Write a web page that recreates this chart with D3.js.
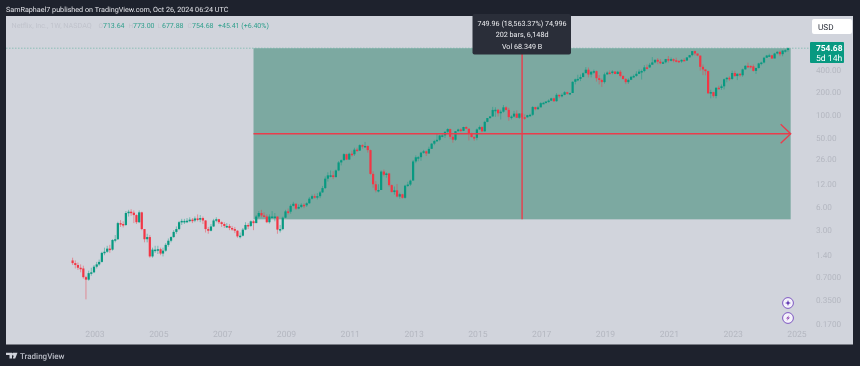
<!DOCTYPE html>
<html>
<head>
<meta charset="utf-8">
<script src="https://cdn.jsdelivr.net/npm/d3@7"></script>
<style>
  html, body { margin: 0; padding: 0; background: #1e222d; }
  svg { display: block; font-family: Roboto, "Noto Sans", sans-serif; filter: blur(0.3px); text-rendering: geometricPrecision; }
</style>
</head>
<body>
<svg id="chart" width="860" height="366"></svg>
<script>
// data ------------------------------------------------------------------------
const firstMonth = new Date(Date.UTC(2002, 4, 1));

const opens = [
  1.15,1.06,1.00,0.92,0.90,0.69,0.64,0.78,
  0.80,0.95,1.02,1.10,1.45,1.50,1.65,1.60,2.15,2.20,3.60,3.50,
  3.40,4.90,5.10,4.95,4.60,3.70,5.00,3.00,2.20,2.35,1.30,1.60,
  1.60,1.62,1.42,1.55,1.85,2.10,2.35,2.75,3.00,3.70,3.85,3.85,
  3.87,4.00,3.90,4.15,4.00,4.20,3.90,3.00,2.85,3.25,3.90,4.05,
  3.70,3.50,3.30,3.30,3.10,3.00,2.85,2.40,2.45,2.95,3.40,3.30,
  3.80,3.60,4.40,4.90,4.55,4.40,3.70,4.40,4.40,4.40,2.95,3.00,
  4.25,5.15,5.10,6.10,6.50,5.60,5.90,6.30,6.20,6.60,7.60,8.20,
  7.90,8.20,9.20,10.5,14.0,15.5,15.5,14.7,18.0,23.0,24.6,29.6,
  25.1,30.0,29.5,34.0,33.0,39.0,37.5,38.0,33.5,16.2,11.8,9.8,
  9.9,17.4,15.8,16.4,11.5,9.3,9.8,8.1,8.7,7.8,11.3,11.7,
  13.2,23.7,26.9,27.0,31.0,32.3,30.2,34.8,40.8,44.2,45.9,52.4,
  52.6,58.7,63.7,50.3,46.0,59.7,62.9,60.4,67.9,64.5,56.2,49.9,
  48.8,63.1,67.8,59.5,79.4,89.2,93.8,114.3,115,103.3,108.4,123.8,
  114.4,91.8,93.4,102.2,90,102.6,91.5,91.3,97.5,98.6,124.9,117,
  123.8,140.7,142.1,147.8,152.2,163,149.4,181.7,174.7,181.4,196.4,187.6,
  192,270.3,291.4,295.4,312.5,351.6,391.4,337.5,367.7,374.1,301.8,286.1,
  267.7,339.5,358.1,356.6,370.5,343.3,367.3,323,293.8,267.6,287.4,314.7,
  323.6,345.1,369,375.5,419.9,419.7,455,488.9,529.6,500,475.7,490.7,
  540.7,532.4,538.9,521.7,513.5,502.8,528.2,517.6,569.2,610.3,690.3,641.9,
  602.4,427.1,394.5,374.6,190.4,197.4,174.9,224.9,223.6,235.4,291.9,305.5,
  294.9,353.9,322.1,345.5,329.9,395.2,440.5,439,433.7,377.6,411.7,474,
  486.9,564.1,602.9,607.3,550.6,641.6,674.9,628.4,701.4,713.64
];
const closes = [
  1.06,1.00,0.92,0.90,0.69,0.64,0.78,0.80,
  0.95,1.02,1.10,1.45,1.50,1.65,1.60,2.15,2.20,3.60,3.50,3.40,
  4.90,5.10,4.95,4.60,3.70,5.00,3.00,2.20,2.35,1.30,1.60,1.60,
  1.62,1.42,1.55,1.85,2.10,2.35,2.75,3.00,3.70,3.85,3.85,3.87,
  4.00,3.90,4.15,4.00,4.20,3.90,3.00,2.85,3.25,3.90,4.05,3.70,
  3.50,3.30,3.30,3.10,3.00,2.85,2.40,2.45,2.95,3.40,3.30,3.80,
  3.60,4.40,4.90,4.55,4.40,3.70,4.40,4.40,4.40,2.95,3.00,4.25,
  5.15,5.10,6.10,6.50,5.60,5.90,6.30,6.20,6.60,7.60,8.20,7.90,
  8.20,9.20,10.5,14.0,15.5,15.5,14.7,18.0,23.0,24.6,29.6,25.1,
  30.0,29.5,34.0,33.0,39.0,37.5,38.0,33.5,16.2,11.8,9.8,9.9,
  17.4,15.8,16.4,11.5,9.3,9.8,8.1,8.7,7.8,11.3,11.7,13.2,
  23.7,26.9,27.0,31.0,32.3,30.2,34.8,40.8,44.2,45.9,52.4,52.6,
  58.7,63.7,50.3,46.0,59.7,62.9,60.4,67.9,64.5,56.2,49.9,48.8,
  63.1,67.8,59.5,79.4,89.2,93.8,114.3,115,103.3,108.4,123.8,114.4,
  91.8,93.4,102.2,90,102.6,91.5,91.3,97.5,98.6,124.9,117,123.8,
  140.7,142.1,147.8,152.2,163,149.4,181.7,174.7,181.4,196.4,187.6,192,
  270.3,291.4,295.4,312.5,351.6,391.4,337.5,367.7,374.1,301.8,286.1,267.7,
  339.5,358.1,356.6,370.5,343.3,367.3,323,293.8,267.6,287.4,314.7,323.6,
  345.1,369,375.5,419.9,419.7,455,488.9,529.6,500,475.7,490.7,540.7,
  532.4,538.9,521.7,513.5,502.8,528.2,517.6,569.2,610.3,690.3,641.9,602.4,
  427.1,394.5,374.6,190.4,197.4,174.9,224.9,223.6,235.4,291.9,305.5,294.9,
  353.9,322.1,345.5,329.9,395.2,440.5,439,433.7,377.6,411.7,474,486.9,
  564.1,602.9,607.3,550.6,641.6,674.9,628.4,701.4,709.3,754.68
];
const highs = [
  1.25,1.15,1.08,1.02,0.98,0.72,0.84,0.92,
  1.00,1.10,1.18,1.50,1.70,1.80,1.85,2.20,2.50,3.75,3.95,3.80,
  5.20,5.40,5.50,5.30,4.70,5.30,5.10,3.00,2.60,2.50,1.70,1.80,
  1.80,1.70,1.70,1.95,2.25,2.40,2.90,3.25,3.85,4.10,4.10,4.20,
  4.30,4.20,4.40,4.70,4.60,4.40,3.95,3.20,3.50,4.10,4.30,4.10,
  3.80,3.70,3.60,3.50,3.30,3.20,2.90,2.70,3.10,3.70,3.60,3.90,
  3.95,4.60,5.20,5.40,5.00,4.70,4.70,5.20,4.90,4.40,3.40,4.40,
  5.40,5.60,6.40,6.90,6.60,6.40,6.60,6.60,6.80,8.00,8.60,8.80,
  9.0,9.6,11.2,15.0,17.0,18.0,17.6,18.5,24.0,25.2,30.5,30.0,
  31,33,36,36,40,40,43,38.5,34,17.5,13,11.8,
  18,18.5,16.9,16.7,11.7,11.0,11.9,9.1,8.8,11.6,12.7,13.6,
  24.8,28.5,28,31.8,33.7,33,37.2,41.5,45.8,55,53.5,55,
  59,65.5,64.5,53,60,64.5,65,68.5,69.5,64,57,51.5,
  65,71,69.5,82,89.5,95,125.7,124,118,115,133,128,
  122,97,111,113,103,104,100,98.5,102,129,126,130,
  145,146,149,158,166,166,191,181,190,203,199,194,
  274,298,335,338,362,423,419,372,392,381,332,298,
  358,371,381,385,369,378,386,330,303,300,324,338,
  373,394,392,449,459,481,575,532,557,541,508,545,
  594,566,552,564,514,537,557,572,615,691,700,636,
  602,459,393,381,212,199,230,240,249,298,312,320,
  380,379,349,350,405,448,485,446,459,418,483,500,
  580,615,637,615,655,688,698,708,729,773
];
const lows = [
  1.00,0.90,0.86,0.80,0.66,0.35,0.62,0.72,
  0.78,0.90,0.98,1.08,1.35,1.45,1.45,1.55,2.00,2.15,3.20,3.15,
  3.30,4.40,4.50,3.60,3.50,3.60,2.90,2.00,2.00,1.25,1.25,1.45,
  1.40,1.35,1.30,1.50,1.75,2.00,2.30,2.60,2.90,3.40,3.50,3.60,
  3.70,3.60,3.70,3.80,3.70,3.50,2.70,2.60,2.80,3.20,3.70,3.50,
  3.20,3.10,3.10,2.90,2.85,2.65,2.30,2.25,2.40,2.90,3.00,3.20,
  2.90,3.60,4.20,4.30,4.30,3.60,3.55,4.20,3.80,2.60,2.70,2.90,
  4.20,4.70,4.80,6.00,5.40,5.50,5.70,5.70,5.90,6.50,7.40,7.60,
  7.4,7.7,9.1,10.2,12.8,14.6,13.8,14.5,17.6,21.0,24.4,24.8,
  24.9,27.5,28,32,33,35,37,31,15.8,10.6,9.2,9.2,
  10.1,15.0,14.4,11,9.2,8.6,7.9,7.6,7.6,7.6,10.9,11.2,
  13.5,22.5,23.8,24.2,30,28,30,35,39,43,44,49.5,
  48.5,55.5,47,42,44.5,59,58,60,63.5,45,49.5,44.5,
  45.3,62.5,58,59,78.5,87.5,93,92.5,93.5,85.5,105,112,
  82,85.5,91,90,87,86,84.5,90.5,93.5,95,113,115,
  124,138,139,143,150,146,147,164,168,179,183,180,
  195,250,275,276,311,352,309,310,345,272,250,231,
  256,333,342,340,342,340,310,292,252,254,285,303,
  315,342,290,362,396,412,472,475,463,463,467,475,
  486,504,490,489,482,483,511,512,570,589,604,591,
  379,331,330,186,163,166,163,217,211,214,266,278,
  286,315,285,315,315,392,411,405,370,344,405,447,
  475,562,580,543,592,625,593,590,658,677.88
];

const priceTicks = [400, 200, 100, 50, 26, 12, 6, 3, 1.4, 0.7, 0.35, 0.17];
const priceLabels = ['400.00','200.00','100.00','50.00','26.00','12.00','6.00','3.00','1.40','0.7000','0.3500','0.1700'];
const yearTicks = [2003, 2005, 2007, 2009, 2011, 2013, 2015, 2017, 2019, 2021, 2023, 2025];

// the measure tool box
const zoneStart = new Date(Date.UTC(2008, 0, 1));
const zoneEnd = new Date(Date.UTC(2024, 10, 1));
const zoneLow = 4.04;
const zoneHigh = 754;
const lastPrice = 754.68;
const toolLines = ['749.96 (18,563.37%) 74,996', '202 bars, 6,148d', 'Vol 68.349 B'];
const legendValues = ['713.64', '773.00', '677.88', '754.68', '+45.41 (+6.40%)'];
const legendLetters = ['O', 'H', 'L', 'C'];

// colours
const green = '#089981';
const red = '#f23645';

// scales ----------------------------------------------------------------------
const svg = d3.select('#chart');

const x = d3.scaleUtc()
  .domain([new Date(Date.UTC(2003, 0, 1)), new Date(Date.UTC(2025, 0, 1))])
  .range([94, 796]);

const y = d3.scaleLog()
  .domain([754.68, 0.17])
  .range([48.2, 323]);

const months = closes.map((c, i) => d3.utcMonth.offset(firstMonth, i));

// frame -----------------------------------------------------------------------
svg.append('rect').attr('width', 860).attr('height', 366).attr('fill', '#1e222d');
svg.append('rect').attr('x', 6).attr('y', 16).attr('width', 847).attr('height', 328.5).attr('fill', '#d1d4dc');

// measure zone (under the candles)
const zoneX0 = x(zoneStart), zoneX1 = x(zoneEnd);
const zoneY0 = y(zoneHigh), zoneY1 = y(zoneLow);
const zoneMidX = (zoneX0 + zoneX1) / 2;
const zoneMidY = (zoneY0 + zoneY1) / 2;

svg.append('rect')
  .attr('x', zoneX0).attr('y', zoneY0)
  .attr('width', zoneX1 - zoneX0).attr('height', zoneY1 - zoneY0)
  .attr('fill', '#7ca9a1');

// last price line
svg.append('line')
  .attr('x1', 6).attr('x2', 811)
  .attr('y1', y(lastPrice)).attr('y2', y(lastPrice))
  .attr('stroke', '#6fb5a8').attr('stroke-width', 0.7)
  .attr('stroke-dasharray', '1.5 1.5');

// candles ---------------------------------------------------------------------
const candleIdx = d3.range(closes.length);
const isUp = i => closes[i] >= opens[i];

svg.append('g').selectAll('line')
  .data(candleIdx)
  .enter()
  .append('line')
  .attr('x1', i => x(months[i])).attr('x2', i => x(months[i]))
  .attr('y1', i => y(highs[i])).attr('y2', i => y(lows[i]))
  .attr('stroke', i => isUp(i) ? green : red)
  .attr('stroke-opacity', 0.65)
  .attr('stroke-width', 0.7);

svg.append('g').selectAll('rect')
  .data(candleIdx)
  .enter()
  .append('rect')
  .attr('x', i => x(months[i]) - 1.1)
  .attr('width', 2.2)
  .attr('y', i => y(Math.max(opens[i], closes[i])))
  .attr('height', i => Math.max(1.5, Math.abs(y(opens[i]) - y(closes[i]))))
  .attr('fill', i => isUp(i) ? green : red);

// measure arrows
const crossColor = '#ea3d4c';
svg.append('line')
  .attr('x1', zoneX0).attr('x2', zoneX1)
  .attr('y1', zoneMidY).attr('y2', zoneMidY)
  .attr('stroke', crossColor).attr('stroke-width', 1.4);
svg.append('line')
  .attr('x1', zoneMidX).attr('x2', zoneMidX)
  .attr('y1', zoneY0).attr('y2', zoneY1)
  .attr('stroke', crossColor).attr('stroke-width', 1.4);
svg.append('path')
  .attr('d', d3.line()([[zoneX1 - 10, zoneMidY - 9.5], [zoneX1, zoneMidY], [zoneX1 - 10, zoneMidY + 9.5]]))
  .attr('fill', 'none').attr('stroke', crossColor).attr('stroke-width', 1.4);

// axes ------------------------------------------------------------------------
const yAxis = d3.axisRight(y)
  .tickValues(priceTicks)
  .tickFormat((d, i) => priceLabels[i])
  .tickSize(0).tickPadding(0);

const yAxisG = svg.append('g').attr('transform', 'translate(816,0.6)').call(yAxis);
yAxisG.select('.domain').remove();
yAxisG.selectAll('text').attr('fill', '#b4b7c0').attr('font-size', 8.2).attr('font-family', 'Roboto');

const xAxis = d3.axisBottom(x)
  .tickValues(yearTicks.map(d => new Date(Date.UTC(d, 0, 1))))
  .tickFormat(d3.utcFormat('%Y'))
  .tickSize(0).tickPadding(0);

const xAxisG = svg.append('g').attr('transform', 'translate(0.5,331)').call(xAxis);
xAxisG.select('.domain').remove();
xAxisG.selectAll('text').attr('fill', '#b4b7c0').attr('font-size', 8.6).attr('font-family', 'Roboto');

// header text -----------------------------------------------------------------
svg.append('text')
  .attr('x', 6).attr('y', 12)
  .attr('fill', '#e4e5ea').attr('font-size', 7.2)
  .text('SamRaphael7 published on TradingView.com, Oct 26, 2024 06:24 UTC');

svg.append('text')
  .attr('x', 11.5).attr('y', 28)
  .attr('fill', '#c0c3cc').attr('font-size', 7.2)
  .text('Netflix, Inc., 1W, NASDAQ');

const legendX = [103, 133, 162, 192, 218];
svg.append('g').selectAll('text')
  .data(legendValues)
  .enter()
  .append('text')
  .attr('x', (d, i) => legendX[i]).attr('y', 28)
  .attr('fill', '#2f9f8c').attr('font-size', 7)
  .text(d => d);
svg.append('g').selectAll('text')
  .data(legendLetters)
  .enter()
  .append('text')
  .attr('x', (d, i) => legendX[i] - 4.5).attr('y', 28)
  .attr('fill', '#c0c3cc').attr('font-size', 6.5)
  .text(d => d);

// measure tooltip -------------------------------------------------------------
svg.append('rect')
  .attr('x', 472.5).attr('y', 14).attr('width', 98.5).attr('height', 40.5)
  .attr('rx', 2).attr('fill', '#2a2e39');
svg.append('g').selectAll('text')
  .data(toolLines)
  .enter()
  .append('text')
  .attr('x', zoneMidX).attr('y', (d, i) => 25.5 + i * 11.8)
  .attr('text-anchor', 'middle')
  .attr('fill', '#eeeff2').attr('font-size', 7.2)
  .text(d => d);

// price scale widgets ---------------------------------------------------------
svg.append('rect')
  .attr('x', 812).attr('y', 19).attr('width', 40).attr('height', 15)
  .attr('rx', 2).attr('fill', '#ffffff');
svg.append('text')
  .attr('x', 818).attr('y', 29.5)
  .attr('fill', '#2a2e39').attr('font-size', 8.2)
  .text('USD');

svg.append('rect')
  .attr('x', 810).attr('y', 42).attr('width', 34).attr('height', 21)
  .attr('rx', 1).attr('fill', green);
svg.append('text')
  .attr('x', 816).attr('y', 51)
  .attr('fill', '#ffffff').attr('font-size', 8.4).attr('font-weight', 700)
  .text('754.68');
svg.append('text')
  .attr('x', 816).attr('y', 61)
  .attr('fill', '#ffffff').attr('font-size', 8.6)
  .text('5d 14h');

// the two round chart icons
[303, 318].forEach(cy => {
  svg.append('circle')
    .attr('cx', 788).attr('cy', cy).attr('r', 5.4)
    .attr('fill', '#f4f2fb').attr('stroke', '#7e57c2').attr('stroke-width', 1);
});
svg.append('path')
  .attr('d', 'M788 300L788.8 302.2L791 303L788.8 303.8L788 306L787.2 303.8L785 303L787.2 302.2Z')
  .attr('fill', '#5e35b1');
svg.append('path')
  .attr('d', 'M789.5 315L786 318.5L788 318.5L786.5 321L790 317.5L788 317.5Z')
  .attr('fill', '#8e3fb0');

// footer logo -----------------------------------------------------------------
svg.append('path')
  .attr('d', 'M6 352.7H12V358.5H9.5V355H6ZM13 352.7H17.5L15.2 358.5H12.8L13.8 355.6A1.4 1.4 0 0 1 13 352.7Z')
  .attr('fill', '#d1d4dc');
svg.append('text')
  .attr('x', 20).attr('y', 358.5)
  .attr('fill', '#b8bbc4').attr('font-size', 8).attr('font-weight', 500)
  .text('TradingView');
</script>
</body>
</html>
